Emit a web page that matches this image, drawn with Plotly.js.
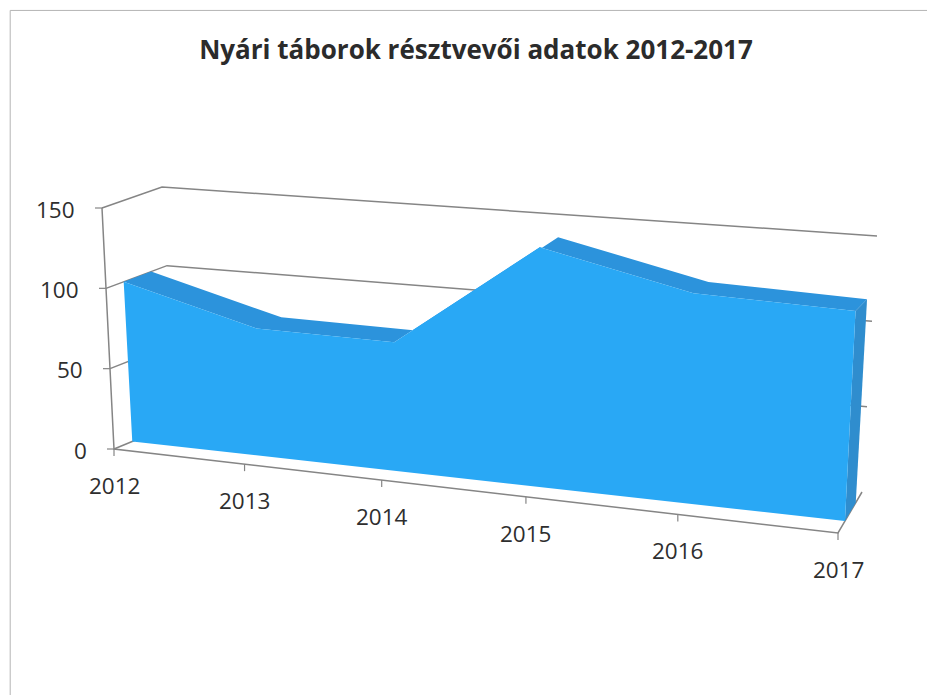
<!DOCTYPE html>
<html><head><meta charset="utf-8"><script src="https://cdn.plot.ly/plotly-3.0.1.min.js"></script>
<style>html,body{margin:0;background:#fff}#c{width:927px;height:695px}</style></head>
<body><div id="c"></div><script>
const years=['2012','2013','2014','2015','2016','2017'];
const participants=[100,78,77,140,120,117];
const valueTicks=[0,50,100,150];
const titleText='Nyári táborok résztvevői adatok 2012-2017';
const colFront='#29a8f5',colTop='#2c93dc',colSide='#2f8dce',colLine='#858585',colText='#2e2e2e';
const areaDepth=[0.29,0.74], perspK=0.88, vMax=150, last=years.length-1;

// Oblique 3-D view of the box the chart lives in (what Excel's 3-D area draws).
const box={fb0:[114,449],fb1:[838,533],ft0:[102,208],ft1:[851,258],
           bb0:[177,423],bb1:[862,492],bt0:[162,187],bt1:[877,236]};
const mix=(a,b,t)=>[a[0]+(b[0]-a[0])*t,a[1]+(b[1]-a[1])*t];
function proj(u,v,d){
  const s=u/last, t=s*perspK/(1+(perspK-1)*s), w=v/vMax;
  const f=mix(mix(box.fb0,box.fb1,t),mix(box.ft0,box.ft1,t),w);
  const b=mix(mix(box.bb0,box.bb1,t),mix(box.bt0,box.bt1,t),w);
  return mix(f,b,d);
}
function poly(pts,color){return {type:'scatter',mode:'lines',x:pts.map(p=>p?p[0]:null),y:pts.map(p=>p?p[1]:null),
  fill:'toself',fillcolor:color,line:{width:0,color:color},hoverinfo:'skip',connectgaps:false};}
function line(pts,w){return {type:'scatter',mode:'lines',x:pts.map(p=>p?p[0]:null),y:pts.map(p=>p?p[1]:null),
  line:{width:w||1.5,color:colLine},hoverinfo:'skip'};}

const [d0,d1]=areaDepth, idx=years.map((_,i)=>i), data=[];
const grid=[];
valueTicks.filter(v=>v>0).forEach(v=>grid.push(proj(0,v,0),proj(0,v,1),proj(last,v,1),null));
data.push(line(grid));
const ax=[proj(0,vMax,0),proj(0,0,0),proj(last,0,0),proj(last,0,1),null,proj(0,0,0),proj(0,0,1)];
data.push(line(ax));
const tickSeg=[];
valueTicks.forEach(v=>{const p=proj(0,v,0);tickSeg.push([p[0]-7,p[1]],p,null);});
idx.forEach(i=>{const p=proj(i,0,0);tickSeg.push(p,[p[0],p[1]+7],null);});
data.push(line(tickSeg,1.2));
const topBand=[];
for(let i=0;i<last;i++){topBand.push(proj(i,participants[i],d0),proj(i,participants[i],d1),proj(i+1,participants[i+1],d1),proj(i+1,participants[i+1],d0),null);}
data.push(poly(topBand,colTop));
data.push(poly([proj(last,0,d0),proj(last,participants[last],d0),proj(last,participants[last],d1),proj(last,0,d1)],colSide));
const front=[proj(0,0,d0)];
idx.forEach(i=>front.push(proj(i,participants[i],d0)));
front.push(proj(last,0,d0));
data.push(poly(front,colFront));
const annotations=[];
const font={family:'Open Sans, Noto Sans, sans-serif',size:22.5,color:colText};
valueTicks.forEach(v=>{const p=proj(0,v,0);annotations.push({x:p[0]-25,y:p[1]+1,text:String(v),xref:'x',yref:'y',showarrow:false,xanchor:'right',yanchor:'middle',font});});
idx.forEach(i=>{const p=proj(i,0,0);annotations.push({x:p[0],y:p[1]+36.5,text:years[i],xref:'x',yref:'y',showarrow:false,xanchor:'center',yanchor:'middle',font});});
const layout={width:927,height:695,margin:{l:0,r:0,t:0,b:0},paper_bgcolor:'#ffffff',plot_bgcolor:'#ffffff',showlegend:false,
 title:{text:'<b>'+titleText+'</b>',x:0.5135,xanchor:'center',y:0.928,yanchor:'middle',font:{family:'Open Sans, Noto Sans, sans-serif',size:26,color:'#2b2b2b'}},
 xaxis:{range:[0,927],visible:false,fixedrange:true},yaxis:{range:[695,0],visible:false,fixedrange:true},
 shapes:[{type:'line',xref:'paper',yref:'paper',x0:0.011,x1:1,y0:0.985,y1:0.985,line:{color:'#b4b4b4',width:1}},
         {type:'line',xref:'paper',yref:'paper',x0:0.011,x1:0.011,y0:0,y1:0.985,line:{color:'#b4b4b4',width:1}}],
 annotations};
Plotly.newPlot('c',data,layout,{displayModeBar:false,staticPlot:true});
</script></body></html>
